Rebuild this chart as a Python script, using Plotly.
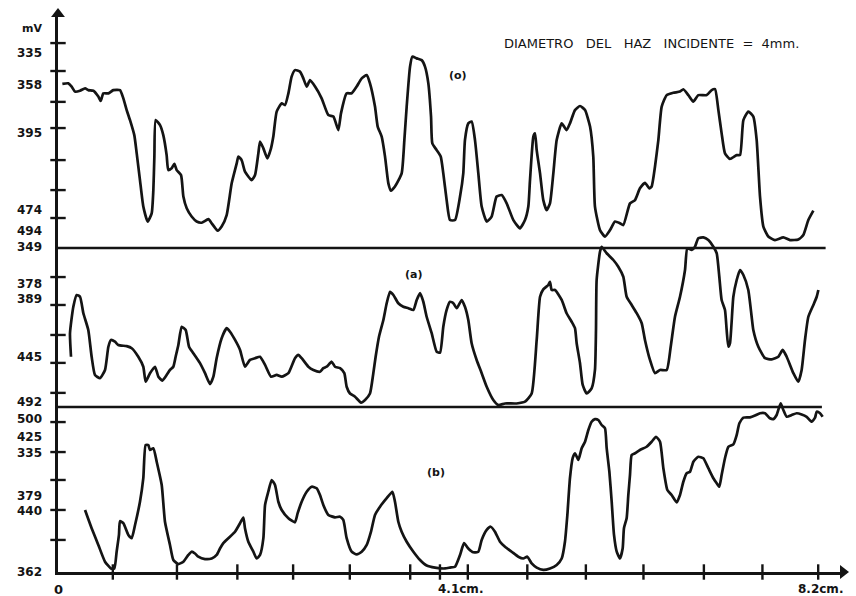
import plotly.graph_objects as go

INK = "#141414"

# ---- scan position (cm) and trace deflection (y-axis divisions above each trace's baseline)
# trace (o)
O_X = [0.047, 0.111, 0.147, 0.183, 0.237, 0.291, 0.326, 0.380, 0.434, 0.459, 0.488, 0.542, 0.595, 0.667,
       0.703, 0.739, 0.775, 0.821, 0.847, 0.882, 0.918, 0.965, 1.008, 1.026, 1.037, 1.051, 1.098, 1.133,
       1.169, 1.187, 1.223, 1.252, 1.277, 1.324, 1.349, 1.385, 1.438, 1.492, 1.546, 1.618, 1.654, 1.718,
       1.761, 1.815, 1.869, 1.923, 1.941, 1.976, 2.012, 2.084, 2.120, 2.156, 2.174, 2.210, 2.253, 2.292,
       2.317, 2.353, 2.407, 2.443, 2.479, 2.514, 2.550, 2.604, 2.640, 2.676, 2.712, 2.766, 2.837, 2.909,
       2.963, 3.017, 3.045, 3.106, 3.160, 3.214, 3.268, 3.322, 3.357, 3.411, 3.440, 3.483, 3.519, 3.555,
       3.583, 3.626, 3.698, 3.727, 3.752, 3.788, 3.813, 3.860, 3.913, 3.949, 3.985, 4.014, 4.028, 4.075,
       4.118, 4.146, 4.182, 4.218, 4.272, 4.326, 4.361, 4.379, 4.415, 4.451, 4.487, 4.523, 4.559, 4.613,
       4.666, 4.720, 4.774, 4.828, 4.900, 4.971, 5.025, 5.061, 5.079, 5.115, 5.133, 5.151, 5.187, 5.222,
       5.258, 5.294, 5.330, 5.366, 5.420, 5.473, 5.509, 5.563, 5.617, 5.671, 5.725, 5.760, 5.778, 5.832,
       5.886, 5.940, 5.994, 6.047, 6.083, 6.155, 6.209, 6.262, 6.316, 6.363, 6.388, 6.424, 6.460, 6.496,
       6.550, 6.621, 6.693, 6.729, 6.783, 6.836, 6.890, 6.980, 7.034, 7.070, 7.106, 7.141, 7.177, 7.231,
       7.303, 7.339, 7.375, 7.428, 7.482, 7.518, 7.554, 7.590, 7.643, 7.715, 7.805, 7.877, 7.966, 8.020,
       8.074, 8.128]
O_Y = [5.58, 5.60, 5.49, 5.32, 5.35, 5.43, 5.37, 5.35, 5.15, 5.00, 5.26, 5.26, 5.37, 5.37,
       5.09, 4.69, 4.35, 3.84, 3.22, 2.31, 1.41, 0.90, 1.18, 1.97, 3.11, 4.35, 4.18, 3.84,
       3.16, 2.65, 2.71, 2.86, 2.65, 2.48, 1.75, 1.35, 1.07, 0.90, 0.86, 0.98, 0.84, 0.59,
       0.73, 1.12, 2.20, 2.88, 3.11, 2.99, 2.60, 2.31, 2.48, 3.22, 3.62, 3.39, 3.05, 3.39,
       3.79, 4.64, 4.92, 4.86, 5.26, 5.83, 6.05, 6.00, 5.77, 5.49, 5.71, 5.49, 5.09, 4.52,
       4.47, 4.01, 4.58, 5.26, 5.26, 5.49, 5.77, 5.88, 5.60, 4.81, 4.13, 3.79, 3.11, 2.20,
       1.95, 2.09, 2.54, 3.67, 4.81, 6.17, 6.51, 6.45, 6.39, 6.17, 5.60, 4.47, 3.56, 3.33,
       3.11, 2.54, 1.63, 0.95, 0.95, 1.75, 2.54, 3.67, 4.24, 4.30, 3.67, 2.54, 1.41, 0.90,
       1.07, 1.75, 1.80, 1.52, 0.95, 0.67, 0.95, 1.41, 2.31, 3.79, 3.90, 3.33, 2.54, 1.63,
       1.29, 1.52, 2.54, 3.67, 4.24, 4.01, 4.24, 4.69, 4.83, 4.69, 4.13, 3.11, 1.41, 0.61,
       0.39, 0.61, 0.90, 0.84, 0.78, 1.52, 1.63, 2.03, 2.22, 2.03, 2.09, 2.77, 3.67, 4.81,
       5.20, 5.28, 5.32, 5.40, 5.20, 4.98, 5.20, 5.20, 5.37, 5.40, 4.69, 3.90, 3.22, 3.03,
       3.16, 3.16, 4.35, 4.64, 4.47, 3.67, 1.75, 0.73, 0.39, 0.27, 0.36, 0.27, 0.29, 0.44,
       0.95, 1.27]

# trace (a)
A_X = [0.140, 0.129, 0.165, 0.201, 0.237, 0.273, 0.326, 0.362, 0.398, 0.452, 0.506, 0.542, 0.570, 0.613,
       0.649, 0.739, 0.793, 0.864, 0.918, 0.943, 0.990, 1.044, 1.080, 1.123, 1.169, 1.205, 1.241, 1.266,
       1.295, 1.331, 1.374, 1.410, 1.456, 1.528, 1.582, 1.636, 1.672, 1.707, 1.761, 1.815, 1.851, 1.905,
       1.959, 2.012, 2.066, 2.120, 2.174, 2.228, 2.292, 2.353, 2.407, 2.479, 2.550, 2.586, 2.622, 2.694,
       2.748, 2.819, 2.855, 2.891, 2.945, 2.981, 3.035, 3.081, 3.106, 3.142, 3.196, 3.261, 3.304, 3.357,
       3.393, 3.418, 3.454, 3.501, 3.537, 3.573, 3.609, 3.662, 3.716, 3.770, 3.824, 3.860, 3.896, 3.931,
       3.967, 4.021, 4.075, 4.111, 4.146, 4.182, 4.218, 4.254, 4.290, 4.344, 4.379, 4.415, 4.451, 4.505,
       4.559, 4.613, 4.684, 4.738, 4.810, 4.935, 5.025, 5.097, 5.151, 5.187, 5.222, 5.276, 5.294, 5.312,
       5.348, 5.420, 5.473, 5.527, 5.563, 5.581, 5.617, 5.646, 5.689, 5.742, 5.778, 5.789, 5.796, 5.832,
       5.850, 5.904, 5.976, 6.029, 6.083, 6.119, 6.173, 6.227, 6.281, 6.316, 6.370, 6.424, 6.478, 6.550,
       6.593, 6.639, 6.693, 6.747, 6.772, 6.819, 6.854, 6.890, 6.944, 6.998, 7.052, 7.088, 7.116, 7.141,
       7.177, 7.195, 7.213, 7.231, 7.267, 7.303, 7.339, 7.375, 7.428, 7.464, 7.482, 7.536, 7.608, 7.680,
       7.751, 7.798, 7.841, 7.913, 7.966, 8.002, 8.038, 8.074, 8.128, 8.164, 8.182]
A_Y = [1.71, 2.51, 3.41, 3.81, 3.75, 3.19, 2.62, 1.71, 1.09, 0.98, 1.26, 2.05, 2.28, 2.22,
       2.11, 2.07, 2.00, 1.71, 1.37, 0.86, 1.15, 1.37, 1.03, 0.90, 1.09, 1.26, 1.37, 1.71,
       2.11, 2.73, 2.62, 2.05, 1.83, 1.49, 1.15, 0.78, 1.03, 1.66, 2.34, 2.68, 2.56, 2.28,
       1.94, 1.37, 1.60, 1.66, 1.71, 1.43, 1.03, 1.09, 1.03, 1.15, 1.66, 1.77, 1.66, 1.37,
       1.26, 1.20, 1.32, 1.37, 1.54, 1.37, 1.32, 1.15, 0.69, 0.46, 0.35, 0.15, 0.24, 0.46,
       1.15, 1.71, 2.39, 2.96, 3.53, 3.92, 3.81, 3.53, 3.41, 3.36, 3.30, 3.64, 3.87, 3.58,
       3.07, 2.51, 1.88, 1.85, 2.73, 3.30, 3.58, 3.53, 3.36, 3.64, 3.41, 2.96, 2.17, 1.60,
       1.15, 0.69, 0.24, 0.07, 0.12, 0.12, 0.18, 0.46, 2.28, 3.75, 4.00, 4.15, 4.26, 3.98,
       3.98, 3.64, 3.19, 2.90, 2.68, 2.17, 1.49, 0.75, 0.46, 0.63, 1.26, 2.62, 4.32, 5.28,
       5.45, 5.23, 5.00, 4.77, 4.43, 3.75, 3.47, 3.19, 2.85, 2.28, 1.60, 1.15, 1.26, 1.26,
       2.05, 3.07, 3.75, 4.66, 5.40, 5.34, 5.45, 5.74, 5.77, 5.68, 5.45, 5.23, 4.43, 3.64,
       3.30, 2.62, 2.05, 2.17, 3.75, 4.32, 4.66, 4.49, 3.98, 3.07, 2.62, 2.05, 1.66, 1.62,
       1.71, 1.94, 1.71, 1.15, 0.86, 1.26, 2.28, 3.07, 3.47, 3.75, 3.98]

# trace (b)
B_X = [0.291, 0.362, 0.434, 0.506, 0.570, 0.606, 0.631, 0.656, 0.667, 0.703, 0.757, 0.793, 0.829, 0.882,
       0.918, 0.943, 0.972, 0.990, 1.026, 1.062, 1.116, 1.151, 1.205, 1.241, 1.295, 1.349, 1.403, 1.438,
       1.474, 1.510, 1.582, 1.654, 1.707, 1.743, 1.779, 1.833, 1.905, 1.959, 1.994, 2.012, 2.048, 2.102,
       2.138, 2.174, 2.210, 2.228, 2.263, 2.299, 2.335, 2.371, 2.407, 2.479, 2.550, 2.579, 2.622, 2.676,
       2.730, 2.783, 2.819, 2.855, 2.909, 2.981, 3.035, 3.070, 3.106, 3.160, 3.214, 3.268, 3.322, 3.368,
       3.411, 3.465, 3.537, 3.598, 3.626, 3.662, 3.698, 3.752, 3.824, 3.896, 3.967, 4.057, 4.164, 4.218,
       4.272, 4.326, 4.369, 4.415, 4.469, 4.523, 4.559, 4.613, 4.656, 4.702, 4.756, 4.810, 4.882, 4.953,
       5.007, 5.050, 5.097, 5.151, 5.222, 5.294, 5.366, 5.420, 5.455, 5.481, 5.509, 5.538, 5.563, 5.599,
       5.635, 5.671, 5.707, 5.742, 5.778, 5.814, 5.850, 5.886, 5.904, 5.933, 5.958, 5.983, 6.012, 6.047,
       6.076, 6.090, 6.119, 6.137, 6.155, 6.173, 6.209, 6.262, 6.334, 6.388, 6.435, 6.478, 6.514, 6.557,
       6.603, 6.657, 6.693, 6.729, 6.765, 6.801, 6.837, 6.890, 6.944, 6.998, 7.052, 7.088, 7.116, 7.141,
       7.177, 7.213, 7.267, 7.303, 7.332, 7.375, 7.446, 7.500, 7.554, 7.608, 7.661, 7.697, 7.733, 7.776,
       7.805, 7.841, 7.895, 7.948, 8.002, 8.056, 8.110, 8.146, 8.164, 8.200, 8.228]
B_Y = [2.11, 1.49, 0.92, 0.35, 0.12, 0.12, 0.69, 1.26, 1.73, 1.66, 1.26, 1.15, 1.60, 2.39,
       3.19, 4.32, 4.32, 4.15, 4.21, 3.75, 2.96, 1.71, 0.92, 0.41, 0.27, 0.35, 0.58, 0.69,
       0.63, 0.52, 0.44, 0.46, 0.58, 0.80, 0.98, 1.15, 1.37, 1.66, 1.85, 1.49, 1.03, 0.69,
       0.46, 0.58, 1.15, 2.28, 2.73, 3.13, 2.96, 2.39, 2.11, 1.83, 1.69, 2.00, 2.39, 2.73,
       2.90, 2.85, 2.62, 2.28, 1.94, 1.86, 1.88, 1.77, 1.15, 0.69, 0.60, 0.69, 0.92, 1.37,
       1.94, 2.22, 2.51, 2.73, 2.39, 1.71, 1.37, 1.03, 0.69, 0.41, 0.22, 0.15, 0.12, 0.15,
       0.18, 0.58, 0.98, 0.80, 0.67, 0.69, 1.09, 1.43, 1.54, 1.37, 1.03, 0.86, 0.69, 0.52,
       0.46, 0.52, 0.29, 0.15, 0.07, 0.12, 0.24, 0.46, 1.03, 1.94, 3.19, 3.87, 4.04, 3.81,
       4.21, 4.43, 4.83, 5.11, 5.20, 5.17, 5.00, 4.89, 4.21, 3.41, 2.39, 1.26, 0.69, 0.46,
       0.80, 1.49, 1.83, 2.62, 3.30, 3.98, 4.04, 4.15, 4.26, 4.43, 4.60, 4.43, 3.53, 2.79,
       2.62, 2.37, 2.62, 3.07, 3.36, 3.41, 3.75, 3.92, 3.87, 3.53, 3.19, 3.02, 2.90, 3.30,
       3.87, 4.26, 4.34, 4.66, 5.06, 5.25, 5.26, 5.32, 5.40, 5.40, 5.23, 5.20, 5.34, 5.74,
       5.51, 5.28, 5.34, 5.40, 5.36, 5.28, 5.11, 5.25, 5.45, 5.40, 5.28]

# ---- axis furniture
X_TICKS = [0.59, 1.28, 1.93, 2.53, 3.14, 3.79, 4.11, 4.41, 5.05, 5.68, 6.30, 6.95, 7.58, 8.18]
X_LABELS = ["0", "4.1cm.", "8.2cm."]
X_LABEL_POS = [0.0, 4.1, 8.2]

TOP_TICKS = [1.02, 1.97, 2.99, 4.08, 4.97, 6.02, 6.97]
MID_TICKS = [0.48, 1.50, 2.45, 3.47, 4.42]
BOT_TICKS = [1.09, 2.11, 3.13, 4.08, 5.10]

TOP_LABELS = ["mV", "335", "358", "395", "474", "494"]
TOP_LABEL_POS = [7.48, 6.63, 5.54, 3.91, 1.29, 0.58]
MID_LABELS = ["349", "378", "389", "445", "492"]
MID_LABEL_POS = [5.44, 4.18, 3.68, 1.70, 0.17]
BOT_LABELS = ["500", "425", "335", "379", "440", "362"]
BOT_LABEL_POS = [5.19, 4.60, 4.05, 2.58, 2.08, 0.0]

TITLE = "DIAMETRO   DEL   HAZ   INCIDENTE  =  4mm."

FONT = "DejaVu Sans"
LW = 2.7

fig = go.Figure()

def trace_line(x, y, axis):
    fig.add_trace(go.Scatter(x=x, y=y, yaxis=axis, mode="lines",
                             line=dict(color=INK, width=LW, shape="spline", smoothing=0.5),
                             hoverinfo="skip", showlegend=False))

trace_line(O_X, O_Y, "y")
trace_line(A_X, A_Y, "y2")
trace_line(B_X, B_Y, "y3")

# tick marks crossing the axes
def tick_marks(x, y, axis, symbol):
    fig.add_trace(go.Scatter(x=x, y=y, yaxis=axis, mode="markers", cliponaxis=False,
                             marker=dict(symbol=symbol, size=11, color=INK,
                                         line=dict(color=INK, width=2.4)),
                             hoverinfo="skip", showlegend=False))

tick_marks([0] * len(TOP_TICKS), TOP_TICKS, "y", "line-ew")
tick_marks([0] * len(MID_TICKS), MID_TICKS, "y2", "line-ew")
tick_marks([0] * len(BOT_TICKS), BOT_TICKS, "y3", "line-ew")
tick_marks(X_TICKS, [0] * len(X_TICKS), "y3", "line-ns")

# axis arrowheads
X_MAX = 8.447
Y3_MAX = 18.98
fig.add_trace(go.Scatter(x=[0, X_MAX], y=[Y3_MAX, 0], yaxis="y3", mode="markers", cliponaxis=False,
                         marker=dict(symbol=["triangle-up", "triangle-right"], size=12, color=INK),
                         hoverinfo="skip", showlegend=False))

annotations = []
def label(text, x, y, yref, xanchor="right", xshift=0, yshift=0, size=12, xref="x"):
    annotations.append(dict(text=text, x=x, y=y, xref=xref, yref=yref, showarrow=False,
                            xanchor=xanchor, yanchor="middle", xshift=xshift, yshift=yshift,
                            font=dict(family=FONT, size=size, color=INK, weight="bold")))

for t, p in zip(TOP_LABELS, TOP_LABEL_POS):
    label(t, 0, p, "y", xref="paper", xshift=-14, size=11 if t == "mV" else 12)
for t, p in zip(MID_LABELS, MID_LABEL_POS):
    label(t, 0, p, "y2", xref="paper", xshift=-14)
for t, p in zip(BOT_LABELS, BOT_LABEL_POS):
    label(t, 0, p, "y3", xref="paper", xshift=-14)

label(X_LABELS[0], X_LABEL_POS[0], 0, "y3", xanchor="center", yshift=-17, size=13)
label(X_LABELS[1], X_LABEL_POS[1], 0, "y3", xanchor="left", xshift=-3, yshift=-17, size=12)
label(X_LABELS[2], X_LABEL_POS[2], 0, "y3", xanchor="center", yshift=-17, size=12)

# trace names and heading
label("(o)", 4.30, 5.88, "y", xanchor="center", size=11)
label("(a)", 3.82, 4.49, "y2", xanchor="center", size=11)
label("(b)", 4.07, 3.37, "y3", xanchor="center", size=11)
annotations.append(dict(text=TITLE, x=6.39, y=6.97, xref="x", yref="y", showarrow=False,
                        xanchor="center", yanchor="middle",
                        font=dict(family=FONT, size=13, color=INK)))

# baselines separating the traces
shapes = [
    dict(type="line", xref="x", yref="y", x0=0, x1=8.26, y0=0, y1=0,
         line=dict(color=INK, width=2.4)),
    dict(type="line", xref="x", yref="y2", x0=0, x1=8.22, y0=0, y1=0,
         line=dict(color=INK, width=2.4)),
]

hidden = dict(showgrid=False, zeroline=False, showticklabels=False, ticks="")
fig.update_layout(
    width=856, height=596,
    margin=dict(l=58, r=13, t=14, b=24),
    paper_bgcolor="white", plot_bgcolor="white",
    xaxis=dict(range=[0, X_MAX], showline=True, linecolor=INK, linewidth=2.6,
               anchor="y3", **hidden),
    yaxis=dict(range=[-11.02, 7.959], **hidden),
    yaxis2=dict(range=[-5.612, 13.367], overlaying="y", **hidden),
    yaxis3=dict(range=[0, Y3_MAX], overlaying="y", showline=True, linecolor=INK, linewidth=2.6,
                **hidden),
    annotations=annotations, shapes=shapes,
    showlegend=False,
)

fig.write_html("out.html")
